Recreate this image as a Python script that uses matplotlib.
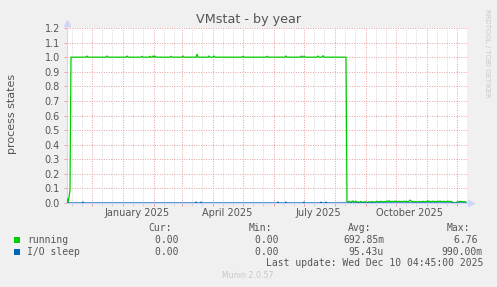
import matplotlib
matplotlib.use('Agg')
import matplotlib.pyplot as plt
import numpy as np
from matplotlib.patches import Rectangle

# ---- data (one value per day, 400 days) ----
start = np.datetime64('2024-11-06')
run_head = [0.03, 0.0, 0.04, 0.09]             # days 0-3, before the plateau
plateau_level = 1.0                             # days 4-279
spike_days = [20, 40, 60, 75, 83, 86, 88, 104, 116, 130, 142, 147, 176, 200, 219, 234, 237, 251, 256]
spike_vals = [1.008, 1.008, 1.008, 1.006, 1.006, 1.008, 1.008, 1.006, 1.008, 1.02, 1.008, 1.008,
              1.006, 1.006, 1.008, 1.008, 1.008, 1.008, 1.01]
run_tail = [0.010, 0.006, 0.012, 0.008, 0.004, 0.010, 0.014, 0.006, 0.008, 0.012,
            0.005, 0.009, 0.004, 0.007, 0.011, 0.006, 0.003, 0.008, 0.010, 0.005,
            0.002, 0.006, 0.009, 0.004, 0.007, 0.010, 0.006, 0.008, 0.005, 0.009,
            0.011, 0.007, 0.010, 0.008, 0.012, 0.009, 0.006, 0.010, 0.008, 0.011,
            0.013, 0.009, 0.016, 0.011, 0.008, 0.012, 0.010, 0.009, 0.013, 0.011,
            0.008, 0.010, 0.012, 0.009, 0.011, 0.008, 0.010, 0.013, 0.009, 0.011,
            0.010, 0.008, 0.012, 0.020, 0.014, 0.009, 0.011, 0.007, 0.010, 0.008,
            0.006, 0.009, 0.011, 0.008, 0.010, 0.007, 0.012, 0.009, 0.008, 0.011,
            0.010, 0.015, 0.009, 0.012, 0.008, 0.010, 0.013, 0.009, 0.011, 0.008,
            0.012, 0.010, 0.009, 0.014, 0.008, 0.011, 0.009, 0.012, 0.010, 0.008,
            0.011, 0.013, 0.009, 0.010, 0.012, 0.008, 0.000, 0.000, 0.000, 0.000,
            0.006, 0.010, 0.008, 0.012, 0.009, 0.011, 0.007, 0.010, 0.008, 0.006]  # days 280-399
io_days = [16, 129, 134, 211, 219, 237, 254, 259]
io_vals = [0.006, 0.006, 0.006, 0.006, 0.006, 0.006, 0.006, 0.006]

y_ticks = [0.0, 0.1, 0.2, 0.3, 0.4, 0.5, 0.6, 0.7, 0.8, 0.9, 1.0, 1.1, 1.2]
x_label_dates = ['2025-01-15', '2025-04-15', '2025-07-15', '2025-10-15']
x_label_text = ['January 2025', 'April 2025', 'July 2025', 'October 2025']

legend_names = ['running', 'I/O sleep']
legend_colors = ['#00CC00', '#0066B3']
legend_cur = ['0.00 ', '0.00 ']
legend_min = ['0.00 ', '0.00 ']
legend_avg = ['692.85m', '95.43u']
legend_max = ['6.76 ', '990.00m']

# build series
running = np.full(400, plateau_level)
running[:4] = run_head
running[spike_days] = spike_vals
running[280:] = run_tail
io_sleep = np.zeros(400)
io_sleep[io_days] = io_vals
days = np.arange(400)

def day_of(d):
    return (np.datetime64(d, 'D') - start) / np.timedelta64(1, 'D')

W, H = 497, 287
TXT = '#555555'
fig = plt.figure(figsize=(W / 100, H / 100), dpi=100, facecolor='#F0F0F0')
ax = fig.add_axes([67 / W, 1 - 203 / H, 400 / W, 175 / H], facecolor='white')

ax.plot(days, running, color='#00CC00', lw=0.9, zorder=3)
ax.plot(days, io_sleep, color='#0066B3', lw=0.9, zorder=4)

ax.set_xlim(0, 400)
ax.set_ylim(0, 1.2)

# grids
months = np.arange(np.datetime64('2024-12'), np.datetime64('2026-01')).astype('datetime64[D]')
major_x = [(m - start) / np.timedelta64(1, 'D') for m in months]
minor_x = []
for m in np.arange(np.datetime64('2024-11'), np.datetime64('2026-01')).astype('datetime64[D]'):
    for off in (10, 20):
        p = (m + np.timedelta64(off, 'D') - start) / np.timedelta64(1, 'D')
        if 0 < p < 400:
            minor_x.append(p)
ax.set_xticks(major_x)
ax.set_xticks(minor_x, minor=True)
ax.set_xticklabels([])
ax.set_yticks(y_ticks)
ax.set_yticklabels(['%.1f' % v for v in y_ticks], fontsize=7, color=TXT)

red = '#E8A0A0'
grey = '#D4D4D4'
ax.grid(which='major', axis='both', color=red, linestyle=(0, (1, 1.5)), lw=0.7, zorder=1)
ax.grid(which='minor', axis='x', color=grey, linestyle=(0, (1, 1.5)), lw=0.7, zorder=0)
ax.tick_params(axis='x', which='major', length=2, color=red, width=0.7)
ax.tick_params(axis='x', which='minor', length=2, color=grey, width=0.7)
ax.tick_params(axis='y', length=2, color=red, width=0.7, pad=3)

for s in ['top', 'right']:
    ax.spines[s].set_visible(False)
for s in ['left', 'bottom']:
    ax.spines[s].set_color('#CFD6F8')
    ax.spines[s].set_linewidth(0.8)

# axis arrows
ax.plot([0], [1 + 5 / 175], marker='^', ms=4.5, color='#CFD6F8', transform=ax.transAxes, clip_on=False)
ax.plot([1 + 4 / 400], [0], marker='>', ms=4.5, color='#CFD6F8', transform=ax.transAxes, clip_on=False)
ax.plot([0, 0], [1, 1 + 5 / 175], color='#CFD6F8', lw=0.8, transform=ax.transAxes, clip_on=False)

for d, t in zip(x_label_dates, x_label_text):
    ax.text(day_of(d), -9.5 / 175, t, transform=ax.get_xaxis_transform(),
            ha='center', va='center', fontsize=7, color=TXT)

def fx(px):
    return px / W

def fy(py):
    return 1 - py / H

fig.text(fx(249), fy(19), 'VMstat - by year', ha='center', va='center', fontsize=9.2, color=TXT)
fig.text(fx(12), fy(114), 'process states', rotation=90, ha='center', va='center', fontsize=8, color=TXT)
fig.text(fx(487), fy(53), 'RRDTOOL / TOBI OETIKER', rotation=270, ha='center', va='center',
         fontsize=5, color='#C8C8C8')

mono = dict(family='DejaVu Sans Mono', fontsize=7, color=TXT, va='center')
for x, h in zip([172, 272, 371, 470], ['Cur:', 'Min:', 'Avg:', 'Max:']):
    fig.text(fx(x), fy(228), h, ha='right', **mono)
for i, name in enumerate(legend_names):
    y = 240 + 12 * i
    fig.patches.append(Rectangle((fx(14), fy(y + 3)), 6 / W, 6 / H, transform=fig.transFigure,
                                 facecolor=legend_colors[i], edgecolor='none'))
    fig.text(fx(27), fy(y), name, ha='left', **mono)
    fig.text(fx(184), fy(y), legend_cur[i], ha='right', **mono)
    fig.text(fx(284), fy(y), legend_min[i], ha='right', **mono)
    fig.text(fx(384), fy(y), legend_avg[i], ha='right', **mono)
    fig.text(fx(483), fy(y), legend_max[i], ha='right', **mono)
fig.text(fx(483), fy(263), 'Last update: Wed Dec 10 04:45:00 2025', ha='right', **mono)
fig.text(fx(248), fy(276), 'Munin 2.0.57', ha='center', va='center', fontsize=5.7, color='#C8C8C8')

fig.savefig('out.png', dpi=100, facecolor=fig.get_facecolor())
